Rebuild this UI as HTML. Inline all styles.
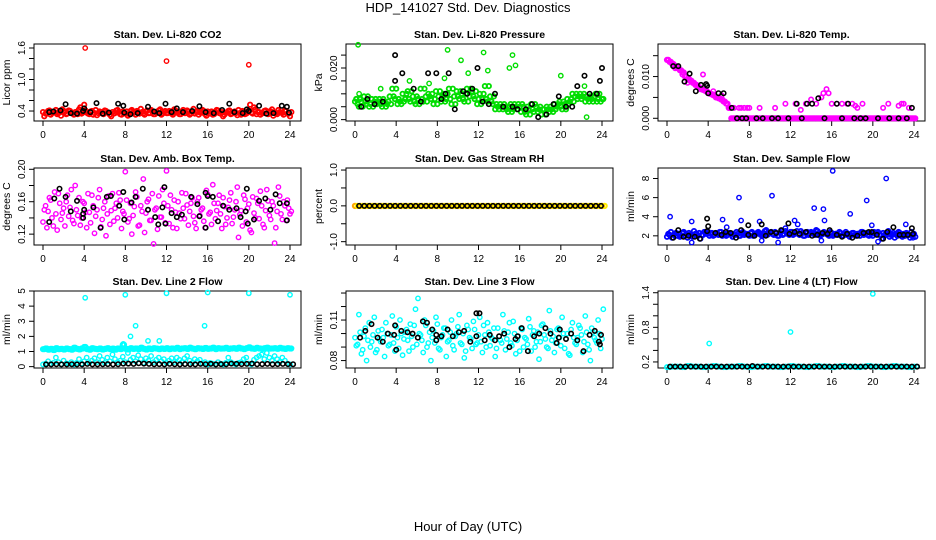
<!DOCTYPE html>
<html><head><meta charset="utf-8"><style>
html,body{margin:0;padding:0;background:#fff;}
svg{display:block;font-family:"Liberation Sans",Arial,sans-serif;}
</style></head><body>
<svg id="chart" width="936" height="540" viewBox="0 0 936 540" xmlns="http://www.w3.org/2000/svg">
<text x="468" y="12" text-anchor="middle" font-size="13">HDP_141027  Std. Dev. Diagnostics</text>
<text x="468" y="531" text-anchor="middle" font-size="13">Hour of Day (UTC)</text>
</svg>
<script>
const xTicks=[0,4,8,12,16,20,24];
// Panel 1 CO2
const co2Red=[0.38,0.35,0.40,0.33,0.37,0.42,0.36,0.31,0.39,0.34,0.41,0.36,0.33,0.38,0.43,0.35,0.52,0.37,0.34,0.40,0.36,0.32,0.39,0.35,0.41,0.37,0.33,0.38,0.36,0.42,0.34,0.39,0.35,0.31,0.40,0.37,0.33,0.38,0.44,0.35,0.39,0.36,0.42,0.34,0.37,0.41,0.33,0.38,0.36,0.40,0.35,0.43,0.37,0.34,0.39,0.36,0.41,0.33,0.38,0.35,0.40,0.37,0.42,0.34,0.39,0.36,0.33,0.38,0.41,0.35,0.30,0.37,0.40,0.34,0.38,0.36,0.42,0.33,0.39,0.35,0.41,0.37,0.47,0.34,0.38,0.36,0.40,0.35,0.39,0.43,0.37,0.34,0.38,0.36,0.41,0.35,0.30];
const co2RedOutX=[4.1,12,20];
const co2RedOutY=[1.6,1.35,1.28];
const co2BlkX=[0.6,1,1.7,2.2,2.7,3.3,3.9,4,4.6,5.2,5.8,6.4,7.3,7.8,7.9,8.5,9.2,10.2,10.8,11.3,11.9,12.5,13,13.6,14.5,15.2,15.8,16.6,17.4,18.1,18.6,19.4,19.8,20,21,21.7,22.4,23.2,23.7,23.9];
const co2BlkY=[0.38,0.39,0.41,0.53,0.36,0.35,0.40,0.45,0.38,0.55,0.35,0.37,0.54,0.50,0.37,0.34,0.36,0.48,0.39,0.36,0.54,0.38,0.45,0.38,0.40,0.49,0.38,0.36,0.42,0.54,0.38,0.36,0.43,0.40,0.50,0.35,0.36,0.50,0.48,0.37];
// Panel 2 pressure
const presGreen=[0.007,0.006,0.008,0.005,0.007,0.009,0.006,0.005,0.008,0.007,0.006,0.008,0.005,0.007,0.006,0.009,0.012,0.008,0.006,0.007,0.010,0.008,0.011,0.007,0.009,0.006,0.008,0.012,0.007,0.009,0.010,0.008,0.006,0.011,0.009,0.007,0.010,0.008,0.012,0.006,0.009,0.011,0.008,0.010,0.007,0.012,0.009,0.011,0.008,0.006,0.010,0.008,0.013,0.007,0.009,0.006,0.004,0.005,0.006,0.004,0.005,0.003,0.006,0.004,0.005,0.006,0.003,0.005,0.002,0.004,0.006,0.003,0.005,0.004,0.002,0.004,0.005,0.003,0.004,0.006,0.005,0.007,0.004,0.006,0.008,0.007,0.010,0.009,0.008,0.010,0.009,0.007,0.008,0.009,0.007,0.010,0.008];
const presGreenOutX=[0.3,0.4,9,10.3,12.5,12.9,15.3,15.6,15,11,20,22.3,8.7,22.5,2.5,5.3,7.2];
const presGreenOutY=[0.029,0.010,0.027,0.023,0.026,0.019,0.025,0.021,0.020,0.018,0.017,0.013,0.016,0.001,0.012,0.015,0.014];
const presBlkX=[0.6,1.2,1.9,2.7,3.9,3.9,4.6,5.7,6.4,7.1,7.9,8.4,8.8,9.1,9.7,10.5,10.9,11.4,11.9,12.4,13,13.6,14.4,15.3,15.8,16.6,17.2,17.8,18.6,19.3,19.8,20.5,21.1,21.6,22.3,22.8,23.5,23.8,24];
const presBlkY=[0.005,0.008,0.006,0.007,0.025,0.015,0.018,0.012,0.007,0.018,0.018,0.008,0.010,0.018,0.004,0.011,0.010,0.012,0.020,0.007,0.006,0.010,0.005,0.005,0.004,0.004,0.006,0.001,0.002,0.006,0.009,0.005,0.005,0.013,0.017,0.010,0.010,0.015,0.020];
// Panel 3 Li-820 temp
const tempMag=[0.014,0.0135,0.013,0.0125,0.012,0.0115,0.011,0.010,0.0095,0.009,0.0085,0.008,0.0075,0.007,0.0068,0.0065,0.006,0.0058,0.0055,0.005,0.0048,0.0045,0.004,0.0035,0.0025,0,0,0,0,0,0,0,0,0,0,0,0,0,0,0,0,0,0,0,0,0,0,0,0,0,0,0,0,0,0,0,0,0,0,0,0,0,0,0,0,0,0,0,0,0,0,0,0,0,0,0,0,0,0,0,0,0,0,0,0,0,0,0,0,0,0,0,0,0,0,0,0];
const tempMagX2=[6.5,7,7.5,8,9,10.5,11.5,12.5,13,13.5,14,14.5,15,15.2,15.5,15.7,16,16.5,17,17.5,18,18.5,19,21,21.5,22.5,23,23.5,0.8,1.5,2,3.5,4.5,5.3,6,6.2,7.2,7.8,18.3,22.8];
const tempMagY2=[0.0025,0.0025,0.0025,0.0025,0.0025,0.0025,0.0035,0.0035,0.002,0.0035,0.0045,0.0035,0.005,0.006,0.007,0.006,0.0035,0.0035,0.0035,0.0035,0.0035,0.0025,0.0035,0.0025,0.0035,0.003,0.0035,0.0025,0.012,0.0105,0.0085,0.0105,0.0065,0.0055,0.0025,0.0025,0.0025,0.0025,0.003,0.0035];
const tempBlkX=[0.6,1.1,1.7,2.2,2.8,3.3,3.8,3.9,4,5,5.5,6.3,6.8,7.3,7.7,8.7,9.3,10.2,10.8,11.8,12.6,13.1,13.6,14.1,14.7,15.3,16.5,17,17.6,18.2,18.8,19.3,20.5,21.6,22.5,23.3,23.8];
const tempBlkY=[0.0125,0.0125,0.0088,0.0107,0.0065,0.008,0.0082,0.0078,0.006,0.006,0.006,0.0025,0,0,0,0,0,0,0,0,0.0035,0,0.0035,0.0035,0.0048,0,0.0035,0,0.0035,0,0,0,0,0,0,0,0.0025];
// Panel 4 amb box temp
const ambMag1=[0.135,0.155,0.148,0.162,0.130,0.145,0.170,0.138,0.152,0.160,0.142,0.175,0.133,0.150,0.165,0.140,0.158,0.128,0.147,0.168,0.121,0.150,0.175,0.138,0.160,0.145,0.132,0.170,0.152,0.140,0.162,0.148,0.197,0.135,0.158,0.143,0.172,0.130,0.155,0.188,0.146,0.163,0.137,0.108,0.152,0.167,0.141,0.158,0.198,0.133,0.150,0.162,0.127,0.146,0.171,0.139,0.156,0.148,0.165,0.134,0.160,0.143,0.152,0.128,0.169,0.147,0.181,0.139,0.158,0.145,0.165,0.132,0.153,0.171,0.141,0.160,0.116,0.149,0.168,0.135,0.157,0.122,0.146,0.164,0.139,0.155,0.128,0.175,0.143,0.160,0.109,0.148,0.167,0.138,0.155,0.162,0.145];
const ambMag2=[0.150,0.128,0.165,0.140,0.172,0.125,0.158,0.146,0.130,0.168,0.153,0.137,0.180,0.143,0.131,0.160,0.147,0.170,0.134,0.155,0.142,0.165,0.129,0.152,0.118,0.167,0.149,0.136,0.158,0.171,0.127,0.145,0.162,0.139,0.120,0.154,0.166,0.131,0.148,0.122,0.160,0.137,0.170,0.150,0.126,0.141,0.175,0.134,0.155,0.168,0.128,0.147,0.160,0.139,0.152,0.170,0.131,0.158,0.142,0.127,0.165,0.150,0.136,0.174,0.145,0.132,0.158,0.149,0.168,0.127,0.154,0.140,0.162,0.133,0.150,0.178,0.144,0.130,0.163,0.152,0.125,0.166,0.140,0.158,0.173,0.132,0.149,0.161,0.138,0.155,0.128,0.178,0.145,0.160,0.137,0.152,0.148];
const ambBlkX=[0.6,1.1,1.6,2.2,2.7,3.3,3.9,3.9,4,4.9,5.6,6.2,6.6,7.4,7.8,7.9,8.6,9,9.7,10.2,10.9,11.2,11.6,11.8,11.9,12.5,13,13.5,14.4,15,15.2,15.8,15.8,16,16.5,17,17.5,18.1,18.8,19.2,19.7,19.8,19.9,20.5,21,21.6,22.1,22.6,23,23.7,23.7];
const ambBlkY=[0.135,0.164,0.176,0.166,0.148,0.161,0.140,0.145,0.150,0.153,0.128,0.166,0.167,0.155,0.172,0.138,0.159,0.166,0.176,0.150,0.141,0.132,0.153,0.178,0.133,0.146,0.141,0.144,0.166,0.157,0.142,0.128,0.171,0.167,0.166,0.136,0.155,0.150,0.152,0.141,0.148,0.176,0.133,0.138,0.161,0.164,0.150,0.169,0.158,0.158,0.137];
// Panel 5 RH (half-hourly)
const rhOrange=[0,0,0,0,0,0,0,0,0,0,0,0,0,0,0,0,0,0,0,0,0,0,0,0,0,0,0,0,0,0,0,0,0,0,0,0,0,0,0,0,0,0,0,0,0,0,0,0,0];
const rhBlk=[0,0,0,0,0,0,0,0,0,0,0,0,0,0,0,0,0,0,0,0,0,0,0,0,0,0,0,0,0,0,0,0,0,0,0,0,0,0,0,0,0,0,0,0,0,0,0,0];
// Panel 6 sample flow
const flowBlue=[1.9,2.1,1.8,2.2,2.0,1.9,2.3,2.0,1.8,2.1,1.9,2.2,2.0,1.7,2.1,2.3,2.4,2.2,2.0,2.3,2.1,2.4,2.2,2.0,2.3,2.1,2.2,2.4,2.0,2.3,2.1,2.2,2.0,2.4,2.1,2.3,2.2,2.0,2.5,2.1,2.3,2.2,2.4,2.0,2.3,2.1,2.5,2.2,2.4,2.1,2.3,2.2,2.5,2.0,2.3,2.1,2.4,2.2,2.6,2.3,2.1,2.4,2.2,2.0,2.3,2.1,2.2,2.4,2.0,2.2,2.1,1.9,2.3,2.1,2.2,2.0,2.4,2.2,2.1,2.3,2.0,2.2,2.4,2.1,2.3,2.2,2.5,2.1,2.3,2.2,2.4,2.0,2.2,2.3,2.1,2.4,2.2];
const flowBlueOutX=[0.3,2.4,5.4,7,7.2,9,10.2,10.8,12.4,12.7,14.3,15.2,15.3,16.1,17.8,19.4,19.9,21.3,23.2,2.4,9.2,15,20.5,23.9,5.8,11.5];
const flowBlueOutY=[4.0,3.5,3.7,6.0,3.6,3.5,6.2,1.3,3.6,3.2,4.9,4.8,3.6,8.8,4.3,5.7,3.1,8.0,3.2,1.3,1.5,1.5,1.4,1.8,2.9,2.8];
const flowBlkX=[0.6,1.1,1.6,2.1,2.7,3.2,3.9,3.9,4,4.7,5.3,5.7,6.2,6.7,7.2,7.9,7.9,8.5,9.2,9.6,10.1,10.6,11.1,11.8,11.9,12.4,12.9,13.5,14.1,14.6,15.1,15.6,15.8,16.5,17,17.5,18,18.5,19.1,19.6,19.9,20.4,21,21.4,22,22.6,23,23.4,23.8,23.9];
const flowBlkY=[1.8,2.6,1.9,2.0,1.9,1.7,2.5,3.8,3.0,2.3,2.1,2.4,2.3,1.8,2.6,3.1,2.1,2.0,3.2,2.0,2.4,2.3,2.6,3.3,2.2,2.4,2.2,2.4,2.0,2.1,2.3,2.2,2.6,2.1,1.9,2.2,1.8,2.0,2.3,2.4,2.4,2.1,1.7,2.4,2.9,2.1,2.1,2.1,2.8,2.2];
// Panel 7 line 2 flow
const l2Cyan1=[1.15,1.2,1.12,1.18,1.1,1.22,1.15,1.17,1.13,1.2,1.16,1.12,1.25,1.18,1.14,1.2,1.3,1.16,1.12,1.22,1.18,1.15,1.2,1.13,1.17,1.22,1.15,1.19,1.12,1.2,1.16,1.45,1.18,1.14,1.22,1.17,1.2,1.15,1.25,1.18,1.13,1.2,1.16,1.22,1.19,1.15,1.2,1.17,1.22,1.15,1.2,1.18,1.24,1.16,1.2,1.22,1.17,1.25,1.19,1.15,1.22,1.2,1.17,1.23,1.18,1.2,1.25,1.16,1.22,1.19,1.2,1.24,1.17,1.2,1.22,1.18,1.25,1.2,1.16,1.22,1.27,1.2,1.18,1.24,1.2,1.17,1.22,1.25,1.19,1.2,1.22,1.18,1.24,1.2,1.17,1.22,1.2];
const l2Cyan2=[0.15,0.2,0.35,0.18,0.25,0.6,0.3,0.15,0.4,0.22,0.18,0.3,0.15,0.25,0.5,0.2,0.35,0.6,0.25,0.4,0.55,0.3,0.7,0.45,0.25,0.6,0.35,0.8,0.5,0.3,0.4,0.65,0.3,0.9,0.45,0.6,0.35,0.75,0.5,0.25,0.55,0.4,0.7,0.3,0.45,0.6,0.35,0.5,0.25,0.4,0.55,0.3,0.6,0.45,0.3,0.55,0.7,0.4,0.25,0.5,0.35,0.45,0.2,0.3,0.15,0.25,0.2,0.15,0.3,0.2,0.15,0.25,0.6,0.3,0.2,0.15,0.25,0.3,0.5,0.6,0.2,0.15,0.45,0.6,0.7,0.8,0.5,0.9,0.6,0.4,0.7,0.5,0.3,0.6,0.4,0.2,0.15];
const l2CyanOutX=[4.1,8,8.5,9,10.2,11.3,12,16,15.7,20,24,7.8];
const l2CyanOutY=[4.55,4.75,2.0,2.7,1.7,1.7,4.85,4.9,2.7,4.85,4.75,1.5];
const l2Blk=[0.15,0.15,0.16,0.15,0.15,0.16,0.15,0.15,0.18,0.15,0.15,0.16,0.17,0.15,0.16,0.2,0.2,0.18,0.22,0.2,0.18,0.16,0.17,0.15,0.18,0.16,0.15,0.17,0.16,0.15,0.18,0.16,0.18,0.15,0.17,0.16,0.2,0.18,0.17,0.18,0.2,0.16,0.17,0.18,0.16,0.17,0.18,0.17,0.16];
// Panel 8 line 3 flow
const l3Cyan1=[0.097,0.092,0.101,0.088,0.104,0.095,0.090,0.099,0.086,0.102,0.094,0.097,0.108,0.091,0.099,0.093,0.105,0.089,0.100,0.096,0.103,0.087,0.098,0.106,0.092,0.100,0.095,0.110,0.090,0.101,0.097,0.093,0.107,0.088,0.099,0.104,0.094,0.101,0.091,0.098,0.105,0.093,0.100,0.087,0.103,0.096,0.109,0.092,0.099,0.094,0.106,0.090,0.101,0.097,0.104,0.089,0.098,0.093,0.102,0.096,0.108,0.091,0.100,0.095,0.087,0.103,0.097,0.092,0.105,0.099,0.090,0.101,0.094,0.107,0.096,0.089,0.102,0.098,0.093,0.104,0.091,0.100,0.096,0.085,0.103,0.097,0.092,0.106,0.099,0.094,0.101,0.088,0.104,0.097,0.093,0.100,0.096];
const l3Cyan2=[0.091,0.114,0.085,0.098,0.080,0.108,0.094,0.112,0.088,0.096,0.103,0.083,0.100,0.092,0.113,0.087,0.097,0.110,0.084,0.101,0.095,0.107,0.090,0.118,0.126,0.099,0.086,0.106,0.093,0.080,0.102,0.112,0.089,0.097,0.104,0.083,0.095,0.110,0.088,0.100,0.114,0.092,0.082,0.106,0.097,0.089,0.103,0.093,0.112,0.086,0.099,0.108,0.091,0.096,0.083,0.104,0.095,0.114,0.088,0.101,0.093,0.109,0.085,0.098,0.104,0.090,0.096,0.111,0.087,0.102,0.094,0.081,0.106,0.099,0.090,0.117,0.095,0.086,0.103,0.097,0.112,0.089,0.100,0.084,0.108,0.093,0.097,0.104,0.086,0.113,0.092,0.080,0.101,0.095,0.110,0.089,0.118];
const l3BlkX=[0.5,1,1.6,2.2,2.7,3.2,3.8,3.9,4,4.5,5.1,5.6,6.1,6.6,7,7.5,7.9,7.9,8.4,9,9.5,10.1,10.6,11.2,11.8,11.8,12.1,12.6,13.1,13.6,14,14.5,15,15.6,15.8,16.2,16.8,17.4,17.9,18.5,19,19.6,19.8,19.9,20.5,21,21.6,22.2,22.8,23.3,23.7,23.8,23.9];
const l3BlkY=[0.097,0.102,0.107,0.097,0.094,0.100,0.099,0.106,0.088,0.102,0.101,0.100,0.097,0.109,0.108,0.103,0.099,0.095,0.098,0.103,0.098,0.101,0.102,0.094,0.098,0.115,0.115,0.095,0.099,0.095,0.098,0.100,0.090,0.096,0.098,0.104,0.087,0.098,0.100,0.104,0.100,0.093,0.097,0.103,0.096,0.100,0.095,0.087,0.099,0.102,0.094,0.092,0.099];
// Panel 9 line 4 flow
const l4Cyan=[0.11,0.12,0.12,0.11,0.13,0.12,0.12,0.11,0.12,0.13,0.12,0.11,0.12,0.12,0.13,0.12,0.11,0.12,0.12,0.13,0.12,0.12,0.11,0.12,0.13,0.12,0.12,0.11,0.12,0.13,0.12,0.12,0.11,0.12,0.13,0.12,0.12,0.11,0.12,0.13,0.12,0.12,0.11,0.12,0.13,0.12,0.12,0.11,0.12];
const l4CyanOutX=[4.1,12,20];
const l4CyanOutY=[0.52,0.72,1.38];
const l4Blk=[0.12,0.12,0.12,0.12,0.12,0.12,0.12,0.12,0.12,0.12,0.12,0.12,0.12,0.12,0.12,0.12,0.13,0.12,0.12,0.12,0.12,0.12,0.12,0.12,0.12,0.12,0.12,0.12,0.12,0.12,0.12,0.12,0.12,0.12,0.12,0.12,0.12,0.12,0.12,0.12,0.12,0.12,0.12,0.12,0.12,0.12,0.12,0.12,0.12];

const NS="http://www.w3.org/2000/svg";
const svg=document.getElementById('chart');
function mk(tag,attrs,parent){const e=document.createElementNS(NS,tag);for(const k in attrs)e.setAttribute(k,attrs[k]);(parent||svg).appendChild(e);return e;}
function quarter(vals,off){return vals.map((v,i)=>[i/4+(off||0),v]);}
function half(vals){return vals.map((v,i)=>[i/2,v]);}
function pairs(xs,ys){const n=Math.min(xs.length,ys.length);const o=[];for(let i=0;i<n;i++)o.push([xs[i],ys[i]]);return o;}

function panel(col,row,cfg){
  const L=34+312*col, T=[44,168,291][row], W=267, H=77;
  const g=mk('g',{});
  
  
  const xs=h=>L+9+h*247/24;
  const ys=v=>T+H-(v-cfg.ylim[0])/(cfg.ylim[1]-cfg.ylim[0])*H;
  const t=mk('text',{x:L+W/2,y:T-6,'text-anchor':'middle','font-size':'10.5','font-weight':'bold'},g);
  t.textContent=cfg.title;
  
  
  const box=mk('rect',{x:L,y:T,width:W,height:H,fill:'none',stroke:'#000','stroke-width':1},g);
  
  
  mk('line',{x1:xs(0),x2:xs(24),y1:T+H,y2:T+H,stroke:'#000'},g);
  xTicks.forEach(h=>{
    mk('line',{x1:xs(h),x2:xs(h),y1:T+H,y2:T+H+5,stroke:'#000'},g);
    const tl=mk('text',{x:xs(h),y:T+H+17,'text-anchor':'middle','font-size':'10'},g);
    tl.textContent=h;
    
    
  });
  mk('line',{x1:L,x2:L,y1:ys(cfg.yt[0]),y2:ys(cfg.yt[cfg.yt.length-1]),stroke:'#000'},g);
  cfg.yt.forEach((v,i)=>{
    mk('line',{x1:L-5,x2:L,y1:ys(v),y2:ys(v),stroke:'#000'},g);
    if(cfg.yl[i]){
      const yl=mk('text',{x:L-9,y:ys(v),'text-anchor':'middle','font-size':'10',transform:`rotate(-90 ${L-9} ${ys(v)})`},g);
      yl.textContent=cfg.yl[i];
      
      
    }
  });
  const yt=mk('text',{x:L-24,y:T+H/2,'text-anchor':'middle','font-size':'10.5',transform:`rotate(-90 ${L-24} ${T+H/2})`},g);
  yt.textContent=cfg.ylab;
  
  
  cfg.series.forEach(s=>{
    const sg=mk('g',{fill:'none',stroke:s.color,'stroke-width':s.sw||1.4},g);
    
    
    s.pts.forEach(p=>{
      const c=mk('circle',{cx:xs(p[0]).toFixed(1),cy:ys(p[1]).toFixed(1),r:s.r||2.2},sg);
      
      
    });
  });
}

panel(0,0,{name:'panel-co2',title:'Stan. Dev. Li-820 CO2',ylab:'Licor ppm',ylim:[0.21,1.676],yt:[0.4,0.6,0.8,1.0,1.2,1.4,1.6],yl:['0.4','','','1.0','','','1.6'],
 series:[{name:'co2-red',color:'#ff0000',pts:quarter(co2Red).concat(quarter(co2Red.slice().reverse(),0.125)),sw:1.8},{name:'co2-red-outliers',color:'#ff0000',pts:pairs(co2RedOutX,co2RedOutY)},{name:'co2-black',color:'#000',pts:pairs(co2BlkX,co2BlkY),sw:1.6}]});
panel(1,0,{name:'panel-pressure',title:'Stan. Dev. Li-820 Pressure',ylab:'kPa',ylim:[-0.00053,0.0293],yt:[0,0.005,0.01,0.015,0.02,0.025],yl:['0.000','','','','0.020',''],
 series:[{name:'pressure-green',color:'#00dd00',pts:quarter(presGreen).concat(quarter(presGreen.slice(2).concat([0.007,0.008]),0.125)),sw:1.8},{name:'pressure-green-outliers',color:'#00dd00',pts:pairs(presGreenOutX,presGreenOutY)},{name:'pressure-black',color:'#000',pts:pairs(presBlkX,presBlkY),sw:1.6}]});
panel(2,0,{name:'panel-li820-temp',title:'Stan. Dev. Li-820 Temp.',ylab:'degrees C',ylim:[-0.00065,0.0178],yt:[0,0.005,0.01,0.015],yl:['0.000','','0.010',''],
 series:[{name:'temp-magenta',color:'#ff00ff',pts:quarter(tempMag).concat(quarter(tempMag,0.125)),sw:1.8},{name:'temp-magenta-extra',color:'#ff00ff',pts:pairs(tempMagX2,tempMagY2),sw:1.6},{name:'temp-black',color:'#000',pts:pairs(tempBlkX,tempBlkY),sw:1.6}]});
panel(0,1,{name:'panel-amb-temp',title:'Stan. Dev. Amb. Box Temp.',ylab:'degrees C',ylim:[0.1066,0.2016],yt:[0.12,0.14,0.16,0.18,0.2],yl:['0.12','','0.16','','0.20'],
 series:[{name:'amb-magenta-1',color:'#ff00ff',pts:quarter(ambMag1)},{name:'amb-magenta-2',color:'#ff00ff',pts:quarter(ambMag2,0.125)},{name:'amb-black',color:'#000',pts:pairs(ambBlkX,ambBlkY),sw:1.6}]});
panel(1,1,{name:'panel-rh',title:'Stan. Dev. Gas Stream RH',ylab:'percent',ylim:[-1.093,1.057],yt:[-1,-0.5,0,0.5,1],yl:['-1.0','','0.0','','1.0'],
 series:[{name:'rh-orange',color:'#ffa500',pts:half(rhOrange),sw:2},{name:'rh-yellow',color:'#ffee00',pts:half(rhOrange).map(p=>[p[0]+0.25,p[1]]),sw:2},{name:'rh-black',color:'#000',pts:half(rhBlk).map(p=>[p[0]+0.4,p[1]]),sw:1.6}]});
panel(2,1,{name:'panel-sample-flow',title:'Stan. Dev. Sample Flow',ylab:'ml/min',ylim:[1.04,9.1],yt:[2,4,6,8],yl:['2','4','6','8'],
 series:[{name:'flow-blue',color:'#0000ff',pts:quarter(flowBlue).concat(quarter(flowBlue.slice().reverse(),0.125)),sw:1.8},{name:'flow-blue-outliers',color:'#0000ff',pts:pairs(flowBlueOutX,flowBlueOutY)},{name:'flow-black',color:'#000',pts:pairs(flowBlkX,flowBlkY),sw:1.6}]});
panel(0,2,{name:'panel-line2-flow',title:'Stan. Dev. Line 2 Flow',ylab:'ml/min',ylim:[-0.09,5.0],yt:[0,1,2,3,4,5],yl:['0','1','2','3','4','5'],
 series:[{name:'line2-cyan-band',color:'#00ffff',pts:quarter(l2Cyan1).concat(quarter(l2Cyan1,0.125)),sw:1.8},{name:'line2-cyan-low',color:'#00ffff',pts:quarter(l2Cyan2)},{name:'line2-cyan-outliers',color:'#00ffff',pts:pairs(l2CyanOutX,l2CyanOutY)},{name:'line2-black',color:'#000',pts:half(l2Blk).map(p=>[p[0]+0.3,p[1]]),sw:1.6}]});
panel(1,2,{name:'panel-line3-flow',title:'Stan. Dev. Line 3 Flow',ylab:'ml/min',ylim:[0.0745,0.1315],yt:[0.08,0.09,0.10,0.11,0.12,0.13],yl:['0.08','','','0.11','',''],
 series:[{name:'line3-cyan-1',color:'#00ffff',pts:quarter(l3Cyan1)},{name:'line3-cyan-2',color:'#00ffff',pts:quarter(l3Cyan2,0.125)},{name:'line3-black',color:'#000',pts:pairs(l3BlkX,l3BlkY),sw:1.6}]});
panel(2,2,{name:'panel-line4-flow',title:'Stan. Dev. Line 4 (LT) Flow',ylab:'ml/min',ylim:[0.095,1.43],yt:[0.2,0.4,0.6,0.8,1.0,1.2,1.4],yl:['0.2','','','0.8','','','1.4'],
 series:[{name:'line4-cyan',color:'#00ffff',pts:half(l4Cyan).concat(half(l4Cyan).map(p=>[p[0]+0.25,p[1]])),sw:1.6},{name:'line4-cyan-outliers',color:'#00ffff',pts:pairs(l4CyanOutX,l4CyanOutY)},{name:'line4-black',color:'#000',pts:half(l4Blk).map(p=>[p[0]+0.3,p[1]]),sw:1.6}]});
</script>
</body></html>
